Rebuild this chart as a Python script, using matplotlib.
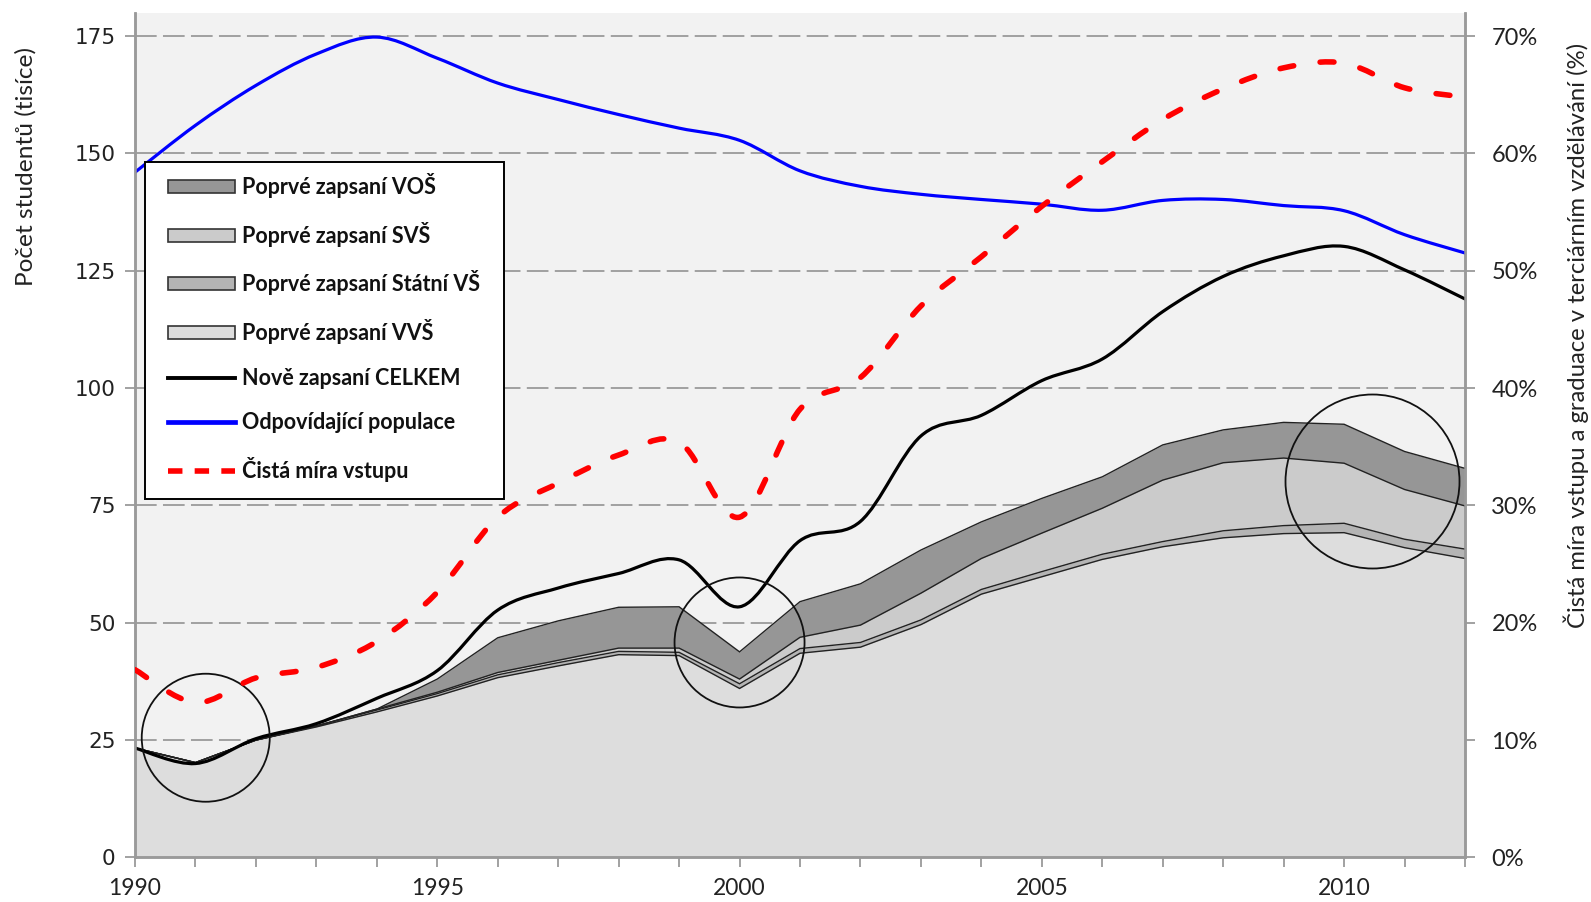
import matplotlib
matplotlib.use("Agg")
import matplotlib.pyplot as plt
import matplotlib.patches as mpatches
from matplotlib.lines import Line2D
from matplotlib.path import Path
import numpy as np

# ---------------- data ----------------
years = list(range(1990, 2013))
# first-time enrolled (thousands), stacked from bottom
vvs    = [23.3, 20.2, 25.0, 27.8, 31.0, 34.4, 38.3, 40.8, 43.2, 43.0, 36.0, 43.5, 44.8,
          49.6, 56.1, 59.8, 63.5, 66.2, 68.1, 69.0, 69.2, 66.0, 63.7]
statni = [0.0, 0.0, 0.0, 0.2, 0.4, 0.5, 0.6, 0.7, 0.7, 0.7, 1.0, 1.0, 1.0,
          1.0, 1.0, 1.1, 1.1, 1.1, 1.5, 1.7, 2.0, 1.8, 2.0]
svs    = [0.0, 0.0, 0.0, 0.0, 0.2, 0.3, 0.5, 0.5, 0.7, 0.9, 1.0, 2.4, 3.7,
          5.7, 6.6, 8.2, 9.8, 13.1, 14.5, 14.4, 12.8, 10.6, 9.2]
vos    = [0.0, 0.0, 0.0, 0.0, 0.0, 2.8, 7.4, 8.4, 8.7, 8.8, 5.8, 7.6, 8.8,
          9.2, 7.8, 7.4, 6.7, 7.5, 7.0, 7.6, 8.3, 8.1, 8.0]
celkem = [23.3, 20.0, 25.3, 28.5, 33.9, 39.8, 52.7, 57.4, 60.5, 63.4, 53.4, 67.5, 71.6,
          89.8, 94.2, 101.6, 106.2, 116.3, 123.8, 128.2, 130.2, 125.2, 119.0]
populace = [146.0, 156.0, 164.5, 171.2, 174.8, 170.3, 165.0, 161.5, 158.3, 155.4, 152.8,
            146.3, 143.0, 141.3, 140.2, 139.2, 137.9, 140.0, 140.2, 138.9, 137.8, 132.7, 128.8]
mira = [16.0, 13.2, 15.3, 16.2, 18.4, 22.6, 29.0, 31.9, 34.3, 35.4, 29.0, 38.2, 40.9,
        47.0, 51.2, 55.5, 59.3, 62.9, 65.5, 67.3, 67.7, 65.6, 64.8]

labels = ["Poprvé zapsaní VOŠ", "Poprvé zapsaní SVŠ", "Poprvé zapsaní Státní VŠ",
          "Poprvé zapsaní VVŠ", "Nově zapsaní CELKEM", "Odpovídající populace",
          "Čistá míra vstupu"]
left_ticks = [0, 25, 50, 75, 100, 125, 150, 175]
right_ticks = [0, 10, 20, 30, 40, 50, 60, 70]
x_label_years = [1990, 1995, 2000, 2005, 2010]

# highlight circles: (year, value, radius in pixels)
circles = [(1991.17, 25.5, 64), (2000.0, 45.8, 65), (2010.47, 80.1, 87)]

# ---------------- style ----------------
C_VOS, C_SVS, C_STAT, C_VVS = "#969696", "#cbcbcb", "#b4b4b4", "#dddddd"
TXT = "#222222"
GRID = "#9a9a9a"
W, H, DPI = 1591, 902, 100

fig = plt.figure(figsize=(W / DPI, H / DPI), dpi=DPI)
L, R, B, T = 135, 1465, 857.4, 12.7
ax = fig.add_axes([L / W, 1 - B / H, (R - L) / W, (B - T) / H])
ax.set_facecolor("#f2f2f2")
ax2 = ax.twinx()

x = np.array(years, dtype=float)
b0 = np.array(vvs)
b1 = b0 + np.array(statni)
b2 = b1 + np.array(svs)
b3 = b2 + np.array(vos)

ax.fill_between(x, 0, b0, color=C_VVS, lw=0, zorder=2)
ax.fill_between(x, b0, b1, color=C_STAT, lw=0, zorder=2)
ax.fill_between(x, b1, b2, color=C_SVS, lw=0, zorder=2)
ax.fill_between(x, b2, b3, color=C_VOS, lw=0, zorder=2)
for top in (b0, b1, b2, b3):
    ax.plot(x, top, color="#222222", lw=1.0, zorder=3, solid_joinstyle="miter")


def smooth_path(xs, ys):
    xs = np.asarray(xs, float)
    ys = np.asarray(ys, float)
    n = len(xs)
    verts = [(xs[0], ys[0])]
    codes = [Path.MOVETO]
    for i in range(n - 1):
        p0 = i - 1 if i > 0 else i
        p3 = i + 2 if i + 2 < n else i + 1
        c1 = (xs[i] + (xs[i + 1] - xs[p0]) / 6.0, ys[i] + (ys[i + 1] - ys[p0]) / 6.0)
        c2 = (xs[i + 1] - (xs[p3] - xs[i]) / 6.0, ys[i + 1] - (ys[p3] - ys[i]) / 6.0)
        verts += [c1, c2, (xs[i + 1], ys[i + 1])]
        codes += [Path.CURVE4] * 3
    return Path(verts, codes)


ax.add_patch(mpatches.PathPatch(smooth_path(x, celkem), fill=False, edgecolor="black",
                                lw=2.3, zorder=5, capstyle="round", joinstyle="round"))
ax.add_patch(mpatches.PathPatch(smooth_path(x, populace), fill=False, edgecolor="#0000ff",
                                lw=2.3, zorder=5, capstyle="round", joinstyle="round"))
red = mpatches.PathPatch(smooth_path(x, mira), fill=False, edgecolor="#ff0000",
                         lw=4.0, zorder=5, linestyle=(0, (2.5, 4.8)))
red.set_capstyle("round")
ax2.add_patch(red)

# circles (as ellipses in data units that render round)
xpx = (R - L) / 22.0
ypx = (B - T) / 180.0
for cx, cy, r in circles:
    ax.add_patch(mpatches.Ellipse((cx, cy), 2 * r / xpx, 2 * r / ypx, fill=False,
                                  edgecolor="#111111", lw=1.3, zorder=6))

# axes
ax.set_xlim(1990, 2012)
ax.set_ylim(0, 180)
ax2.set_ylim(0, 72)
ax.set_yticks(left_ticks)
ax.set_yticklabels([str(v) for v in left_ticks], fontfamily="DejaVu Sans", fontsize=15.5, color=TXT)
ax2.set_yticks(right_ticks)
ax2.set_yticklabels([f"{v}%" for v in right_ticks], fontfamily="Lato", fontsize=17, color=TXT)
ax.set_xticks(x_label_years)
ax.set_xticklabels([str(v) for v in x_label_years], fontfamily="Lato", fontsize=16.5, color=TXT)
ax.set_xticks(years, minor=True)

ax.grid(axis="y", color=GRID, lw=1.3, linestyle=(0, (12, 3.5)), zorder=1)
ax.set_axisbelow(True)

for a in (ax, ax2):
    for s in a.spines.values():
        s.set_color(GRID)
        s.set_linewidth(1.8)
    a.spines["top"].set_visible(False)
ax.tick_params(axis="y", which="both", length=7, width=1.3, color=GRID, pad=7, direction="out")
ax.tick_params(axis="x", which="both", length=7, width=1.3, color=GRID, pad=8, direction="out")
ax2.tick_params(axis="y", length=7, width=1.3, color=GRID, pad=12, direction="out")

fig.text(25.4 / W, 1 - 166 / H, "Počet studentů (tisíce)", rotation=90, ha="center",
         va="center", fontfamily="Lato", fontsize=17.6, color=TXT)
fig.text(1576 / W, 1 - 335 / H, "Čistá míra vstupu a graduace v terciárním vzdělávání (%)",
         rotation=90, ha="center", va="center", fontfamily="Lato", fontsize=17.2, color=TXT)

# legend: white box + frameless legend on top
box = mpatches.Rectangle((145 / W, 1 - 499 / H), (504 - 145) / W, (499 - 162) / H,
                         transform=fig.transFigure, facecolor="white", edgecolor="black",
                         lw=1.4, zorder=10)
fig.add_artist(box)
handles = [
    mpatches.Patch(facecolor=C_VOS, edgecolor="#333333", lw=1.2),
    mpatches.Patch(facecolor=C_SVS, edgecolor="#333333", lw=1.2),
    mpatches.Patch(facecolor=C_STAT, edgecolor="#333333", lw=1.2),
    mpatches.Patch(facecolor=C_VVS, edgecolor="#333333", lw=1.2),
    Line2D([], [], color="black", lw=2.8),
    Line2D([], [], color="#0000ff", lw=3.4),
    Line2D([], [], color="#ff0000", lw=4.0, linestyle=(0, (2.6, 2.2))),
]
leg = fig.legend(handles, labels, loc="upper left", bbox_to_anchor=(168 / W, 1 - 173 / H),
                 bbox_transform=fig.transFigure, borderaxespad=0, borderpad=0,
                 frameon=False, prop={"family": "Lato", "weight": "bold", "size": 15.5},
                 handlelength=3.1, handleheight=0.55, handletextpad=0.33,
                 labelspacing=1.1)
leg.set_zorder(11)
for t in leg.get_texts():
    t.set_color("#111111")

fig.savefig("out.png", dpi=DPI, facecolor="white")
